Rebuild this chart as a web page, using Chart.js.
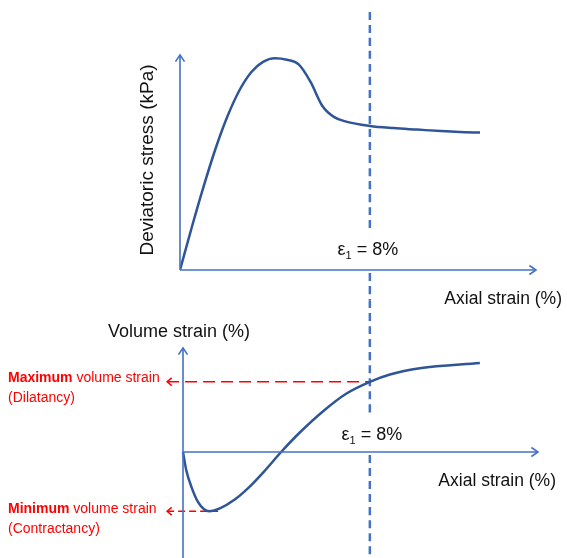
<!DOCTYPE html>
<html lang="en">
<head>
  <meta charset="UTF-8" />
  <title>Deviatoric stress and volume strain vs axial strain</title>
  <script src="https://cdn.jsdelivr.net/npm/chart.js"></script>
  <style>
    * { margin: 0; padding: 0; box-sizing: border-box; }
    body { background: #fff; width: 567px; height: 558px; overflow: hidden; position: relative; }
    canvas { position: absolute; left: 0; top: 0; }
  </style>
</head>
<body>
  <canvas id="stressChart" width="567" height="558"></canvas>
  <canvas id="volumeChart" width="567" height="558"></canvas>

  <script>
    // schematic values
    const eps1 = 8; // axial strain marker (%)

    const stressStrain = [0, 0.5, 1, 1.5, 2, 2.5, 3, 3.5, 4, 4.5, 5, 5.5, 6, 6.5, 7, 8, 9, 10, 11, 12, 12.64];
    const stressValues = [0, 20, 39, 56.5, 71.5, 83.5, 92, 96.8, 98.5, 97.8, 95.6, 87.5, 76.3, 71.1, 69, 67, 66, 65.3, 64.6, 64.1, 63.9];

    const volStrain = [0, 0.14, 0.36, 0.64, 0.9, 1.12, 1.6, 2.2, 2.8, 3.5, 4.2, 5.0, 6.0, 7.0, 8, 8.86, 10.14, 12.71];
    const volValues = [0, -0.35, -0.67, -0.96, -1.10, -1.14, -1.08, -0.92, -0.69, -0.36, 0, 0.375, 0.785, 1.125, 1.35, 1.49, 1.61, 1.71];

    const maxVol = 1.35;
    const minVol = -1.14;
    const minVolStrain = 1.12;

    // dashed marker segments (y extents in each panel's units)
    const stressDash = [[120, 18.6], [-1.4, -14]];
    const volumeDash = [[2.92, 0.75], [-0.06, -2.3]];

    const FONT = '"Liberation Sans", Arial, sans-serif';
    const AXIS = '#4472C4';
    const CURVE = '#2F5597';
    const RED = '#FF0000';

    const toPts = (xs, ys) => xs.map((x, i) => ({ x: x, y: ys[i] }));

    function dashSets(segs) {
      return segs.map(s => ({
        data: [{ x: eps1, y: s[0] }, { x: eps1, y: s[1] }],
        borderColor: AXIS, borderWidth: 2.5, borderDash: [8, 5],
        pointRadius: 0, clip: false
      }));
    }

    function arrowHead(ctx, x, y, dir, len, spread) {
      // dir: angle the arrow points to
      ctx.beginPath();
      ctx.moveTo(x + len * Math.cos(dir + Math.PI - spread), y + len * Math.sin(dir + Math.PI - spread));
      ctx.lineTo(x, y);
      ctx.lineTo(x + len * Math.cos(dir + Math.PI + spread), y + len * Math.sin(dir + Math.PI + spread));
      ctx.stroke();
    }

    function drawAxes(chart, yBottom) {
      const ctx = chart.ctx, xs = chart.scales.x, ys = chart.scales.y;
      const x0 = xs.getPixelForValue(0), y0 = ys.getPixelForValue(0);
      const xEnd = xs.getPixelForValue(xs.max), yTop = ys.getPixelForValue(ys.max);
      ctx.save();
      ctx.strokeStyle = AXIS;
      ctx.lineWidth = 1.6;
      ctx.beginPath();
      ctx.moveTo(x0, yBottom == null ? y0 : yBottom);
      ctx.lineTo(x0, yTop);
      ctx.moveTo(x0, y0);
      ctx.lineTo(xEnd, y0);
      ctx.stroke();
      arrowHead(ctx, x0, yTop, -Math.PI / 2, 8, 0.6);
      arrowHead(ctx, xEnd, y0, 0, 8, 0.6);
      ctx.restore();
    }

    function drawEps(ctx, cx, baseline, size) {
      const rest = ' = ' + eps1 + '%';
      const sub = Math.round(size * 0.62);
      ctx.font = size + 'px ' + FONT;
      const w1 = ctx.measureText('\u03B5').width;
      const w3 = ctx.measureText(rest).width;
      ctx.font = sub + 'px ' + FONT;
      const w2 = ctx.measureText('1').width;
      let x = cx - (w1 + w2 + w3) / 2;
      ctx.fillStyle = '#111';
      ctx.textAlign = 'left';
      ctx.textBaseline = 'alphabetic';
      ctx.font = size + 'px ' + FONT;
      ctx.fillText('\u03B5', x, baseline);
      x += w1;
      ctx.font = sub + 'px ' + FONT;
      ctx.fillText('1', x, baseline + size * 0.22);
      x += w2;
      ctx.font = size + 'px ' + FONT;
      ctx.fillText(rest, x, baseline);
    }

    function redLabel(ctx, x, baseline, bold, normal, second) {
      ctx.fillStyle = RED;
      ctx.textAlign = 'left';
      ctx.textBaseline = 'alphabetic';
      ctx.font = 'bold 14px ' + FONT;
      ctx.fillText(bold, x, baseline);
      const w = ctx.measureText(bold).width;
      ctx.font = '14px ' + FONT;
      ctx.fillText(normal, x + w, baseline);
      ctx.fillText(second, x, baseline + 20);
    }

    const stressPlugin = {
      id: 'stressDecor',
      afterDatasetsDraw(chart) {
        const ctx = chart.ctx;
        drawAxes(chart);
        ctx.save();
        drawEps(ctx, chart.scales.x.getPixelForValue(eps1) - 2, 255, 18);
        ctx.fillStyle = '#111';
        ctx.font = '17.5px ' + FONT;
        ctx.textAlign = 'right';
        ctx.fillText('Axial strain (%)', 562, 304);
        ctx.translate(148, 160);
        ctx.rotate(-Math.PI / 2);
        ctx.textAlign = 'center';
        ctx.textBaseline = 'middle';
        ctx.font = '19px ' + FONT;
        ctx.fillText('Deviatoric stress (kPa)', 0, 0);
        ctx.restore();
      }
    };

    const volumePlugin = {
      id: 'volumeDecor',
      afterDatasetsDraw(chart) {
        const ctx = chart.ctx;
        drawAxes(chart, chart.height);
        ctx.save();
        // arrowheads at the left end of the red guide lines
        ctx.strokeStyle = RED;
        ctx.lineWidth = 1.5;
        [3, 4].forEach(i => {
          const p = chart.getDatasetMeta(i).data[0];
          arrowHead(ctx, p.x, p.y, Math.PI, 6, 0.7);
        });
        drawEps(ctx, chart.scales.x.getPixelForValue(eps1) + 2, 440, 18);
        ctx.fillStyle = '#111';
        ctx.font = '17.5px ' + FONT;
        ctx.textAlign = 'right';
        ctx.fillText('Axial strain (%)', 556, 486);
        ctx.textAlign = 'left';
        ctx.font = '18px ' + FONT;
        ctx.fillText('Volume strain (%)', 108, 337);
        redLabel(ctx, 8, 382, 'Maximum', ' volume strain', '(Dilatancy)');
        redLabel(ctx, 8, 513, 'Minimum', ' volume strain', '(Contractancy)');
        ctx.restore();
      }
    };

    const baseOpts = {
      responsive: false,
      animation: false,
      plugins: { legend: { display: false }, tooltip: { enabled: false } },
      elements: { line: { cubicInterpolationMode: 'monotone' } }
    };

    new Chart(document.getElementById('stressChart'), {
      type: 'line',
      data: {
        datasets: [{
          data: toPts(stressStrain, stressValues),
          borderColor: CURVE, borderWidth: 2.5, pointRadius: 0
        }].concat(dashSets(stressDash))
      },
      options: Object.assign({}, baseOpts, {
        layout: { padding: { left: 180, right: 31, top: 55, bottom: 288 } },
        scales: {
          x: { type: 'linear', min: 0, max: 15, display: false },
          y: { type: 'linear', min: 0, max: 100, display: false }
        }
      }),
      plugins: [stressPlugin]
    });

    new Chart(document.getElementById('volumeChart'), {
      type: 'line',
      data: {
        datasets: [
          {
            data: toPts(volStrain, volValues),
            borderColor: CURVE, borderWidth: 2.5, pointRadius: 0, clip: false
          },
          ...dashSets(volumeDash),
          {
            data: [{ x: -0.68, y: maxVol }, { x: eps1, y: maxVol }],
            borderColor: RED, borderWidth: 1.5, borderDash: [12, 6], pointRadius: 0, clip: false
          },
          {
            data: [{ x: -0.68, y: minVol }, { x: minVolStrain + 0.45, y: minVol }],
            borderColor: RED, borderWidth: 1.5, borderDash: [7, 4], pointRadius: 0, clip: false
          }
        ]
      },
      options: Object.assign({}, baseOpts, {
        layout: { padding: { left: 183, right: 29, top: 348, bottom: 2 } },
        scales: {
          x: { type: 'linear', min: 0, max: 15.2, display: false },
          y: { type: 'linear', min: -2, max: 2, display: false }
        }
      }),
      plugins: [volumePlugin]
    });
  </script>
</body>
</html>
